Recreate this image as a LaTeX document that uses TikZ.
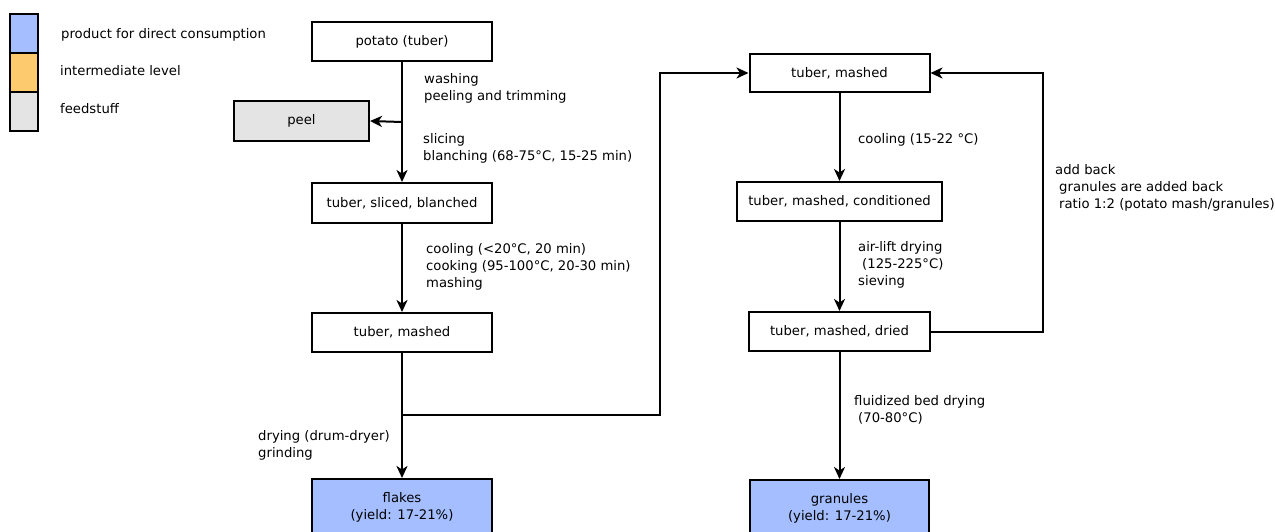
\documentclass[tikz,border=0pt]{standalone}
\usepackage{fontspec}
\setmainfont{DejaVu Sans}
\usetikzlibrary{arrows.meta}
\definecolor{consume}{RGB}{164,190,255}
\definecolor{interm}{RGB}{253,202,110}
\definecolor{feed}{RGB}{228,228,228}
\tikzset{
  box/.style={draw, line width=2pt, rectangle, inner sep=0pt, align=center,
              font=\fontsize{13.2}{17}\selectfont},
  lbl/.style={anchor=west, inner sep=0pt, align=left,
              font=\fontsize{13.2}{17}\selectfont},
  flow/.style={line width=2pt, -{Stealth[length=12pt, width=11pt, inset=3.5pt]}},
}
\begin{document}
\begin{tikzpicture}[x=1pt, y=-1pt]
\clip (0,0) rectangle (1275,531);
\fill[white] (0,0) rectangle (1275,531);

% legend
\node[box, fill=consume, minimum width=28pt, minimum height=39pt] (lg1) at (24,33.5) {};
\node[box, fill=interm,  minimum width=28pt, minimum height=39pt] (lg2) at (24,72.5) {};
\node[box, fill=feed,    minimum width=28pt, minimum height=39pt] (lg3) at (24,111.5) {};
\node[lbl] (lt1) at (61,35) {product for direct consumption};
\node[lbl] (lt2) at (60,71) {intermediate level};
\node[lbl] (lt3) at (60,109) {feedstuff};

% flakes line
\node[box, minimum width=180pt, minimum height=39pt] (potato) at (402,41.5) {potato (tuber)};
\node[box, fill=feed, minimum width=135pt, minimum height=40pt] (peel) at (301.5,121) {peel};
\node[box, minimum width=180pt, minimum height=40pt] (sliced) at (402,203) {tuber, sliced, blanched};
\node[box, minimum width=180pt, minimum height=39pt] (mashL) at (402,332.5) {tuber, mashed};
\node[box, fill=consume, minimum width=180pt, minimum height=56pt] (flakes) at (402,507) {flakes\\(yield: 17-21\%)};

% granules line
\node[box, minimum width=180pt, minimum height=38pt] (mashR) at (839.5,73) {tuber, mashed};
\node[box, minimum width=205pt, minimum height=39pt] (cond) at (839.5,201.5) {tuber, mashed, conditioned};
\node[box, minimum width=181pt, minimum height=39pt] (dried) at (839.5,331.5) {tuber, mashed, dried};
\node[box, fill=consume, minimum width=179pt, minimum height=56pt] (gran) at (839.5,508) {granules\\(yield: 17-21\%)};

% helper points
\coordinate (peeljoin) at (402,122);
\coordinate (branch) at (402,415);
\coordinate (leftx) at (660,0);
\coordinate (rightx) at (1043,0);

% connectors
\draw[flow] (potato.south) -- (sliced.north);
\draw[flow] (peeljoin) -- (peel.east);
\draw[flow] (sliced.south) -- (mashL.north);
\draw[flow] (mashL.south) -- (flakes.north);
\draw[flow] (branch) -- (branch -| leftx) |- (mashR.west);
\draw[flow] (mashR.south) -- (cond.north);
\draw[flow] (cond.south) -- (dried.north);
\draw[flow] (dried.south) -- (gran.north);
\draw[flow] (dried.east) -- (dried.east -| rightx) |- (mashR.east);

% step labels
\node[lbl] (l1) at (424,88.5) {washing\\peeling and trimming};
\node[lbl] (l2) at (423,148.5) {slicing\\blanching (68-75°C, 15-25 min)};
\node[lbl] (l3) at (426,266.5) {cooling (<20°C, 20 min)\\cooking (95-100°C, 20-30 min)\\mashing};
\node[lbl] (l4) at (258,445) {drying (drum-dryer)\\grinding};
\node[lbl] (l5) at (858,140) {cooling (15-22 °C)};
\node[lbl] (l6) at (858,265) {air-lift drying\\\hspace*{4pt}(125-225°C)\\sieving};
\node[lbl] (l7) at (1055,188) {add back\\\hspace*{4pt}granules are added back\\\hspace*{4pt}ratio 1:2 (potato mash/granules)};
\node[lbl] (l8) at (854,410) {fluidized bed drying\\\hspace*{4pt}(70-80°C)};
\end{tikzpicture}
\end{document}
